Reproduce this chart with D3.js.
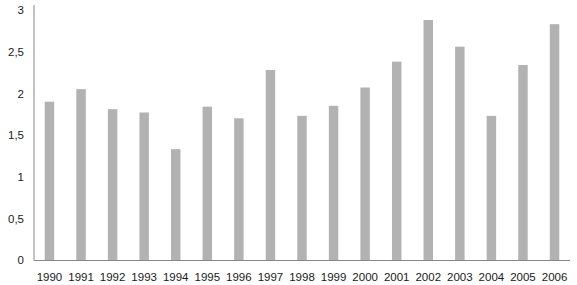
<!DOCTYPE html>
<html>
<head>
<meta charset="utf-8">
<script src="https://cdn.jsdelivr.net/npm/d3@7/dist/d3.min.js"></script>
<style>
  html, body { margin: 0; padding: 0; background: #fff; }
  svg text { font-family: "Liberation Sans", Arial, sans-serif; }
</style>
</head>
<body>
<svg id="chart" width="577" height="285"></svg>
<script>
const years = ["1990","1991","1992","1993","1994","1995","1996","1997","1998","1999","2000","2001","2002","2003","2004","2005","2006"];
const values = [1.9, 2.05, 1.81, 1.77, 1.33, 1.84, 1.70, 2.28, 1.73, 1.85, 2.07, 2.38, 2.88, 2.56, 1.73, 2.34, 2.83];
const yTicks = [0, 0.5, 1, 1.5, 2, 2.5, 3];

const svg = d3.select("#chart");
const x0 = 34, x1 = 570, yBase = 260, yTop = 10;

const x = d3.scaleBand().domain(years).range([x0, x1]).paddingInner(0.7).paddingOuter(0.34);
const y = d3.scaleLinear().domain([0, 3]).range([yBase, yTop]);

svg.append("g").selectAll("rect").data(values).join("rect")
  .attr("x", (d, i) => x(years[i]))
  .attr("width", x.bandwidth())
  .attr("y", d => y(d))
  .attr("height", d => yBase - y(d))
  .attr("fill", "#b2b2b2");

const fmt = d => String(d).replace(".", ",");
const yAxis = d3.axisLeft(y).tickValues(yTicks).tickFormat(fmt).tickSize(0).tickPadding(10);
const gy = svg.append("g").attr("transform", `translate(${x0},0)`).call(yAxis);
gy.select(".domain").remove();
gy.selectAll("text").attr("font-size", 11.5).attr("fill", "#1a1a1a")
  .attr("font-family", "'Liberation Sans', Arial, sans-serif");

const xAxis = d3.axisBottom(x).tickSize(0).tickPadding(13);
const gx = svg.append("g").attr("transform", `translate(0,${yBase})`).call(xAxis);
gx.select(".domain").remove();
gx.selectAll("text").attr("font-size", 11.5).attr("fill", "#1a1a1a")
  .attr("font-family", "'Liberation Sans', Arial, sans-serif");

svg.append("line").attr("x1", x0).attr("x2", x0).attr("y1", 5).attr("y2", yBase + 0.5)
  .attr("stroke", "#888").attr("stroke-width", 1);
svg.append("line").attr("x1", x0).attr("x2", x1).attr("y1", yBase + 0.5).attr("y2", yBase + 0.5)
  .attr("stroke", "#888").attr("stroke-width", 1);
</script>
</body>
</html>
